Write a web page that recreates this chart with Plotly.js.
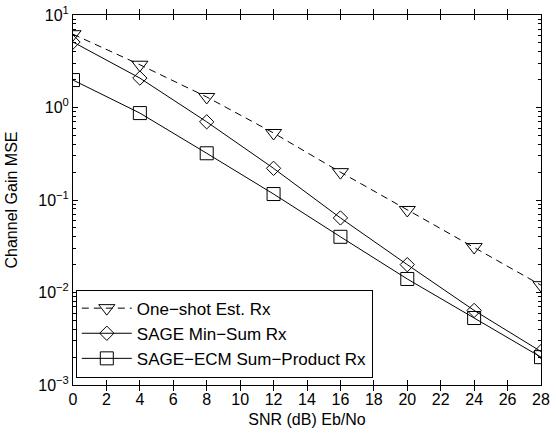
<!DOCTYPE html>
<html>
<head>
<meta charset="utf-8">
<script src="https://cdn.plot.ly/plotly-3.0.1.min.js"></script>
<style>html,body{margin:0;padding:0;background:#fff;}#chart{width:556px;height:433px;}</style>
</head>
<body>
<div id="chart"></div>
<script>
const snr = [0, 4, 8, 12, 16, 20, 24, 28];
const oneShot = [6.2, 2.9, 1.3, 0.53, 0.20, 0.078, 0.031, 0.012];
const sageMinSum = [5.1, 2.08, 0.70, 0.22, 0.064, 0.020, 0.0064, 0.0023];
const sageEcm = [1.98, 0.87, 0.32, 0.116, 0.040, 0.014, 0.0053, 0.0020];
const seriesNames = ["One\u2212shot Est. Rx", "SAGE Min\u2212Sum Rx", "SAGE\u2212ECM Sum\u2212Product Rx"];
const xTicks = [0,2,4,6,8,10,12,14,16,18,20,22,24,26,28];
const yTickVals = [0.001, 0.01, 0.1, 1, 10];
const yTickText = ["10<sup>\u22123</sup>", "10<sup>\u22122</sup>", "10<sup>\u22121</sup>", "10<sup>0</sup>", "10<sup>1</sup>"];
const yMinor = [];
[0.001, 0.01, 0.1, 1].forEach(d => { for (let k = 2; k <= 9; k++) yMinor.push(d * k); });

const font = {family: "Liberation Sans, Arial, sans-serif", size: 16, color: "#000"};
const traces = [
  {x: snr, y: oneShot, name: seriesNames[0], mode: "lines+markers",
   line: {color: "#000", width: 1, dash: "7px,5px"},
   marker: {symbol: "triangle-down-open", size: 14, color: "#000", line: {width: 1, color: "#000"}}},
  {x: snr, y: sageMinSum, name: seriesNames[1], mode: "lines+markers",
   line: {color: "#000", width: 1},
   marker: {symbol: "diamond-open", size: 11, color: "#000", line: {width: 1, color: "#000"}}},
  {x: snr, y: sageEcm, name: seriesNames[2], mode: "lines+markers",
   line: {color: "#000", width: 1},
   marker: {symbol: "square-open", size: 13, color: "#000", line: {width: 1, color: "#000"}}},
  {x: snr, y: sageEcm, yaxis: "y2", mode: "none", showlegend: false, hoverinfo: "skip"}
];
const layout = {
  width: 556, height: 433,
  margin: {l: 73, r: 15, t: 15, b: 48},
  paper_bgcolor: "#fff", plot_bgcolor: "rgba(0,0,0,0)",
  font: font,
  showlegend: true,
  legend: {x: 0.006, y: 0.02, xanchor: "left", yanchor: "bottom",
    bgcolor: "#fff", bordercolor: "#000", borderwidth: 1,
    font: {family: font.family, size: 17, color: "#000"},
    itemwidth: 50, tracegroupgap: 0},
  xaxis: {range: [0, 28], tickvals: xTicks, ticks: "inside", ticklen: 5,
    tickcolor: "#000", showline: true, linecolor: "#000", linewidth: 1,
    mirror: "allticks", showgrid: false, zeroline: false,
    title: {text: "SNR (dB) Eb/No", font: font, standoff: 6}},
  yaxis: {type: "log", range: [-3, 1], tickmode: "array", tickvals: yTickVals, ticktext: yTickText,
    ticks: "inside", ticklen: 5, tickcolor: "#000", showline: true, linecolor: "#000",
    linewidth: 1, mirror: "allticks", showgrid: false, zeroline: false,
    title: {text: "Channel Gain MSE", font: font, standoff: 16}},
  yaxis2: {type: "log", range: [-3, 1], overlaying: "y", tickmode: "array", tickvals: yMinor,
    showticklabels: false, ticks: "inside", ticklen: 3, tickcolor: "#000", showline: false,
    mirror: "allticks", showgrid: false, zeroline: false}
};
Plotly.newPlot("chart", traces, layout, {displayModeBar: false, staticPlot: true});
</script>
</body>
</html>
